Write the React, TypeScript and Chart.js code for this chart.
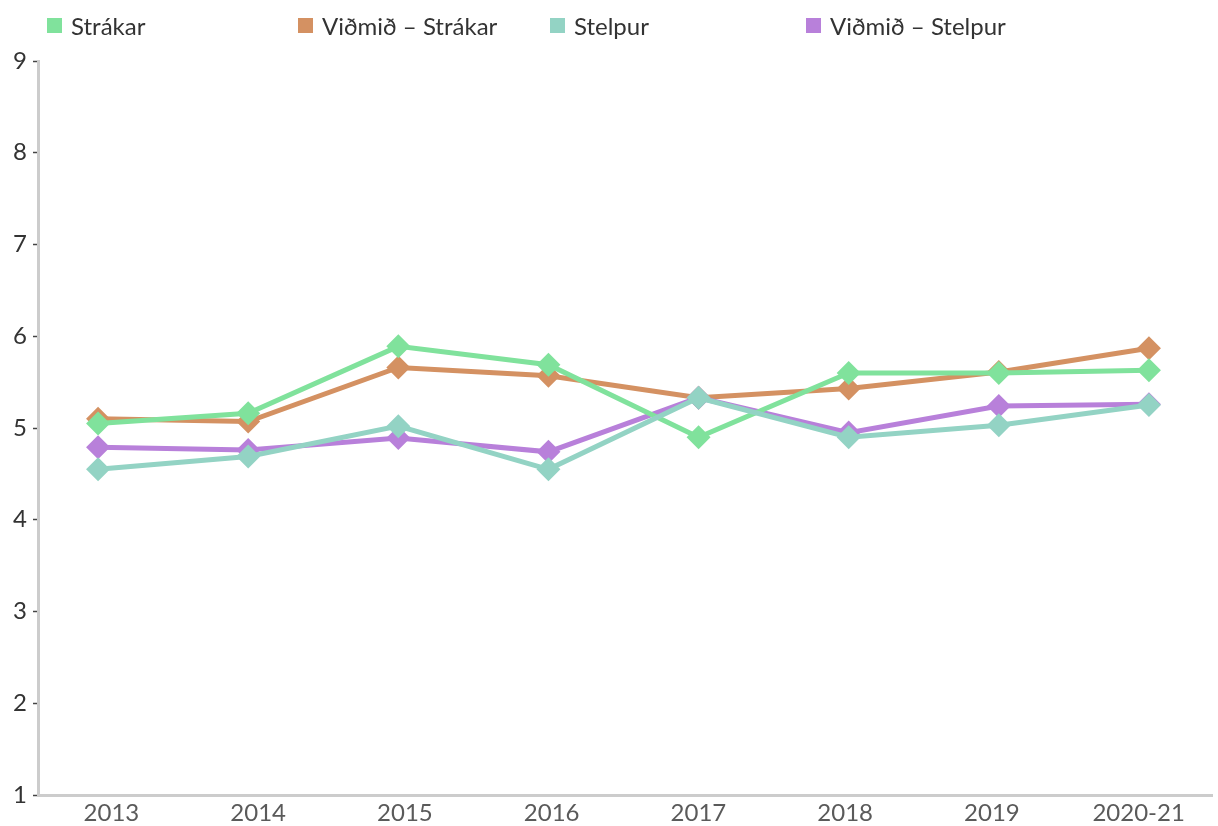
import React, { useEffect, useRef } from "react";
import { Chart, registerables } from "chart.js";

Chart.register(...registerables);

const categories = ["2013", "2014", "2015", "2016", "2017", "2018", "2019", "2020-21"];
const strakar = [5.05, 5.16, 5.89, 5.69, 4.9, 5.6, 5.6, 5.63];
const vidmidStrakar = [5.1, 5.07, 5.66, 5.57, 5.33, 5.43, 5.61, 5.87];
const stelpur = [4.55, 4.69, 5.02, 4.55, 5.33, 4.9, 5.03, 5.25];
const vidmidStelpur = [4.79, 4.76, 4.89, 4.74, 5.33, 4.95, 5.24, 5.26];
const yTickValues = [1, 2, 3, 4, 5, 6, 7, 8, 9];

const seriesNames = ["Strákar", "Viðmið – Strákar", "Stelpur", "Viðmið – Stelpur"];
const seriesColors = ["#80e29c", "#d49162", "#93d3c4", "#b880da"];
const seriesValues = [strakar, vidmidStrakar, stelpur, vidmidStelpur];
const seriesOrder = [1, 3, 0, 2];

const FONT = "Lato, 'Open Sans', sans-serif";
const legendLefts = [47, 298, 550, 806];

export default function App() {
  const canvasRef = useRef<HTMLCanvasElement | null>(null);

  useEffect(() => {
    document.documentElement.style.overflow = "hidden";
    document.body.style.overflow = "hidden";
    if (!canvasRef.current) return;
    const chart = new Chart(canvasRef.current, {
      type: "line",
      data: {
        labels: categories,
        datasets: seriesNames.map((name, si) => ({
          label: name,
          data: seriesValues[si].map((v, i) => ({ x: i, y: v })),
          xAxisID: "xPts",
          borderColor: seriesColors[si],
          backgroundColor: seriesColors[si],
          borderWidth: 5,
          pointStyle: "rectRot",
          pointRadius: 12,
          pointHoverRadius: 12,
          pointBorderWidth: 0,
          pointBackgroundColor: seriesColors[si],
          tension: 0,
          order: seriesOrder[si],
          fill: false,
          clip: false,
        })),
      },
      options: {
        animation: false,
        responsive: false,
        layout: { autoPadding: false, padding: { top: 61, right: 6, left: 0, bottom: 0 } },
        plugins: {
          legend: { display: false },
          tooltip: { enabled: false },
        },
        scales: {
          x: {
            type: "category",
            offset: true,
            afterFit: (s: any) => {
              s.height = 31;
            },
            grid: { display: false, drawTicks: false },
            border: { display: true, color: "#cccccc", width: 3 },
            ticks: {
              padding: 4,
              color: "#5a5a5a",
              font: { family: FONT, size: 24 },
              maxRotation: 0,
              autoSkip: false,
            },
          },
          xPts: {
            type: "linear",
            display: false,
            position: "bottom",
            min: -0.4,
            max: 7.42,
          },
          y: {
            type: "linear",
            min: 1,
            max: 9,
            afterBuildTicks: (s: any) => {
              s.ticks = yTickValues.map((v) => ({ value: v }));
            },
            afterFit: (s: any) => {
              s.width = 38;
            },
            grid: {
              display: true,
              drawOnChartArea: false,
              drawTicks: true,
              tickLength: 5,
              tickWidth: 1.5,
              tickColor: "#444444",
            },
            border: { display: true, color: "#cccccc", width: 3 },
            ticks: {
              padding: 6,
              color: "#333333",
              font: { family: FONT, size: 24 },
            },
          },
        },
      },
    } as any);
    return () => chart.destroy();
  }, []);

  return (
    <div style={{ position: "absolute", left: 0, top: 0, width: 1218, height: 826, background: "#fff", overflow: "hidden" }}>
      <canvas ref={canvasRef} width={1218} height={826} style={{ display: "block", width: 1218, height: 826 }} />
      {seriesNames.map((name, i) => (
        <div
          key={name}
          style={{
            position: "absolute",
            left: legendLefts[i],
            top: 10,
            display: "flex",
            alignItems: "center",
            height: 30,
            fontFamily: FONT,
            fontSize: 24,
            color: "#333",
            whiteSpace: "nowrap",
          }}
        >
          <span style={{ display: "inline-block", width: 15, height: 15, background: seriesColors[i], marginRight: 9 }} />
          <span>{name}</span>
        </div>
      ))}
    </div>
  );
}
